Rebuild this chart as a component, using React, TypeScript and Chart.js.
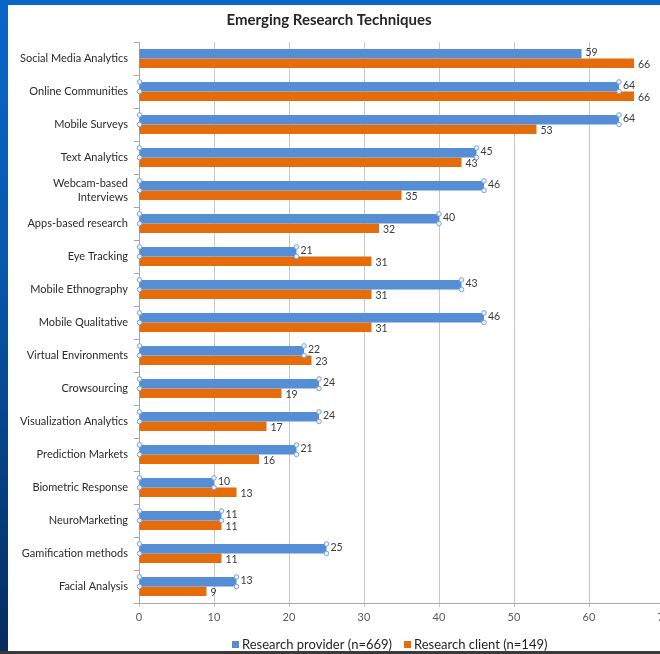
import React, { useEffect, useRef } from "react";
import { Chart, registerables } from "chart.js";

Chart.register(...registerables);

const categories: (string | string[])[] = [
  "Social Media Analytics",
  "Online Communities",
  "Mobile Surveys",
  "Text Analytics",
  ["Webcam-based", "Interviews"],
  "Apps-based research",
  "Eye Tracking",
  "Mobile Ethnography",
  "Mobile Qualitative",
  "Virtual Environments",
  "Crowsourcing",
  "Visualization Analytics",
  "Prediction Markets",
  "Biometric Response",
  "NeuroMarketing",
  "Gamification methods",
  "Facial Analysis",
];

const providerValues = [59, 64, 64, 45, 46, 40, 21, 43, 46, 22, 24, 24, 21, 10, 11, 25, 13];
const clientValues = [66, 66, 53, 43, 35, 32, 31, 31, 31, 23, 19, 17, 16, 13, 11, 11, 9];

const seriesNames = ["Research provider (n=669)", "Research client (n=149)"];
const chartTitle = "Emerging Research Techniques";
const xMin = 0;
const xMax = 70;
const xStep = 10;

const BLUE = "#558ed5";
const ORANGE = "#e46c0a";
const FONT = 'Lato, "Open Sans", "Noto Sans", sans-serif';

const decorPlugin = {
  id: "decor",
  afterDatasetsDraw(chart: any) {
    const ctx = chart.ctx;
    ctx.save();
    ctx.font = `10.5px ${FONT}`;
    ctx.fillStyle = "#3a3a3a";
    ctx.textAlign = "left";
    ctx.textBaseline = "middle";
    chart.data.datasets.forEach((ds: any, di: number) => {
      const meta = chart.getDatasetMeta(di);
      meta.data.forEach((el: any, i: number) => {
        const v = ds.data[i];
        ctx.fillText(String(v), el.x + 4, el.y + (di === 0 ? -1 : 1));
      });
    });
    const meta0 = chart.getDatasetMeta(0);
    ctx.lineWidth = 1;
    meta0.data.forEach((el: any, i: number) => {
      if (i === 0) return;
      const h = el.height / 2;
      const pts = [
        [el.base, el.y - h],
        [el.base, el.y + h],
        [el.x, el.y - h],
        [el.x, el.y + h],
      ];
      pts.forEach(([px, py]) => {
        ctx.beginPath();
        ctx.arc(px, py, 2.3, 0, Math.PI * 2);
        ctx.fillStyle = "#e8f0fa";
        ctx.fill();
        ctx.strokeStyle = "#7fa6cf";
        ctx.stroke();
      });
    });
    ctx.restore();
  },
  afterDraw(chart: any) {
    const ctx = chart.ctx;
    ctx.save();
    ctx.font = `bold 15px ${FONT}`;
    ctx.fillStyle = "#262626";
    ctx.textAlign = "center";
    ctx.textBaseline = "middle";
    ctx.fillText(chartTitle, 321, 15);
    ctx.font = `13px ${FONT}`;
    ctx.textAlign = "left";
    const colors = [BLUE, ORANGE];
    const xs = [224, 396];
    seriesNames.forEach((name, i) => {
      ctx.fillStyle = colors[i];
      ctx.fillRect(xs[i], 636, 7, 7);
      ctx.fillStyle = "#1f1f1f";
      ctx.fillText(name, xs[i] + 10, 640);
    });
    ctx.restore();
  },
};

export default function App() {
  const ref = useRef<HTMLCanvasElement>(null);
  useEffect(() => {
    document.body.style.margin = "0";
    const chart = new Chart(ref.current as HTMLCanvasElement, {
      type: "bar",
      data: {
        labels: categories,
        datasets: [
          {
            label: seriesNames[0],
            data: providerValues,
            backgroundColor: BLUE,
            borderWidth: 0,
            categoryPercentage: 0.58,
            barPercentage: 1,
          },
          {
            label: seriesNames[1],
            data: clientValues,
            backgroundColor: ORANGE,
            borderWidth: 0,
            categoryPercentage: 0.58,
            barPercentage: 1,
          },
        ],
      },
      options: {
        indexAxis: "y",
        animation: false,
        responsive: false,
        maintainAspectRatio: false,
        layout: { padding: { top: 37, right: 16, left: 0, bottom: 0 } },
        plugins: {
          legend: { display: false },
          title: { display: false },
          tooltip: { enabled: false },
        },
        scales: {
          x: {
            min: xMin,
            max: xMax,
            ticks: {
              stepSize: xStep,
              color: "#595959",
              font: { family: FONT, size: 11 },
              padding: 4,
            },
            grid: {
              color: "#c8c8c8",
              tickLength: 4,
              lineWidth: 1,
            },
            border: { color: "#a6a6a6" },
            afterFit: (s: any) => {
              s.height = 48;
            },
          },
          y: {
            ticks: {
              color: "#2a2a2a",
              font: { family: FONT, size: 11 },
              padding: 6,
              autoSkip: false,
            },
            grid: {
              offset: true,
              drawOnChartArea: false,
              tickLength: 5,
              color: "#a6a6a6",
            },
            border: { color: "#a6a6a6" },
            afterFit: (s: any) => {
              s.width = 131;
            },
          },
        },
      },
      plugins: [decorPlugin],
    } as any);
    return () => chart.destroy();
  }, []);

  return (
    <div
      style={{
        position: "relative",
        width: 660,
        height: 654,
        overflow: "hidden",
        background: "linear-gradient(180deg, #0a66c8 0%, #0858ad 40%, #063a78 80%, #052c5c 100%)",
      }}
    >
      <div
        style={{
          position: "absolute",
          left: 8,
          top: 5,
          width: 672,
          height: 646,
          background: "#ffffff",
        }}
      >
        <canvas ref={ref} width={672} height={646} style={{ display: "block" }} />
      </div>
      <div
        style={{
          position: "absolute",
          left: 0,
          top: 651,
          width: 660,
          height: 3,
          background: "#3a3a3a",
        }}
      />
    </div>
  );
}
